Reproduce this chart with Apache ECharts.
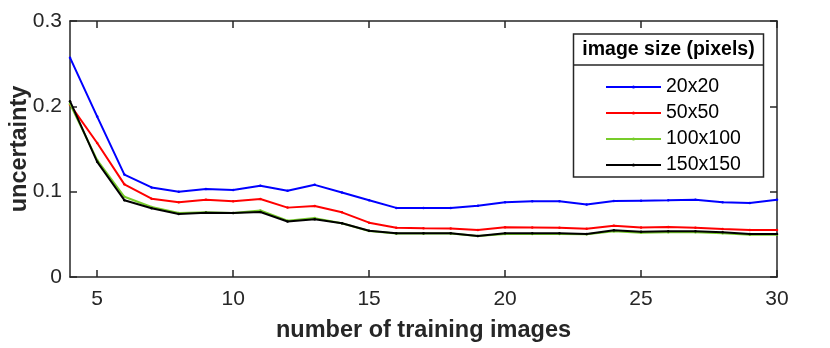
<!DOCTYPE html>
<html><head><meta charset="utf-8">
<script src="https://cdn.jsdelivr.net/npm/echarts@6/dist/echarts.min.js"></script>
<style>html,body{margin:0;padding:0;background:#fff}#c{width:830px;height:348px}</style>
</head><body><div id="c"></div>
<script>
const xs = [4,5,6,7,8,9,10,11,12,13,14,15,16,17,18,19,20,21,22,23,24,25,26,27,28,29,30];
const s20 = [0.257,0.188,0.120,0.105,0.100,0.103,0.102,0.107,0.101,0.108,0.099,0.090,0.081,0.081,0.081,0.0836,0.0875,0.0887,0.0887,0.085,0.089,0.0895,0.090,0.0906,0.0875,0.0867,0.0906];
const s50 = [0.202,0.157,0.1086,0.0918,0.0875,0.0906,0.0887,0.0914,0.0813,0.0832,0.0758,0.0637,0.0578,0.057,0.0567,0.0551,0.0582,0.058,0.0578,0.0566,0.0601,0.058,0.0586,0.0578,0.0563,0.055,0.055];
const s100 = [0.203,0.137,0.094,0.082,0.075,0.076,0.075,0.078,0.066,0.069,0.063,0.054,0.051,0.051,0.051,0.048,0.0505,0.0505,0.0505,0.050,0.0537,0.052,0.0525,0.0525,0.0512,0.0495,0.0495];
const s150 = [0.206,0.135,0.090,0.0805,0.0738,0.0754,0.075,0.0762,0.065,0.0676,0.063,0.0543,0.0512,0.0512,0.0512,0.048,0.0512,0.0512,0.0512,0.0504,0.0547,0.053,0.0535,0.0535,0.0523,0.0504,0.0504];
const names = ['20x20','50x50','100x100','150x150'];
const colors = ['#0000ff','#ff0000','#77cc2a','#000000'];
const xTicks = [5,10,15,20,25,30];
const legendTitle = 'image size (pixels)';
const xName = 'number of training images';
const yName = 'uncertainty';

const F = '"Liberation Sans", Arial, Helvetica, sans-serif';
const AX = '#262626';
const chart = echarts.init(document.getElementById('c'), null, {renderer:'canvas'});
const seriesData = [s20,s50,s100,s150];
const series = seriesData.map((d,i)=>({
  name: names[i], type:'line', data: xs.map((x,j)=>[x,d[j]]),
  symbol:'circle', symbolSize:2.5, showSymbol:true,
  lineStyle:{color:colors[i], width:2}, itemStyle:{color:colors[i]},
  z: 2+i, animation:false
}));
const yLabelFmt = v => v===0 ? '0' : String(+v.toFixed(1));
chart.setOption({
  animation:false,
  backgroundColor:'#fff',
  grid:{left:70,right:53,top:21,bottom:71,containLabel:false,outerBoundsMode:'none'},
  xAxis:[{
    type:'value', min:4, max:30, position:'bottom',
    name:xName, nameLocation:'middle', nameGap:42,
    nameTextStyle:{fontFamily:F,fontSize:23.5,fontWeight:'bold',color:AX},
    axisLine:{show:true,onZero:false,lineStyle:{color:AX,width:1.5}},
    axisTick:{show:true,inside:true,length:7,customValues:xTicks,lineStyle:{color:AX,width:1.5}},
    axisLabel:{customValues:xTicks,fontFamily:F,fontSize:21,color:AX,margin:12},
    splitLine:{show:false}
  },{
    type:'value', min:4, max:30, position:'top',
    axisLine:{show:true,onZero:false,lineStyle:{color:AX,width:1.5}},
    axisTick:{show:true,inside:true,length:7,customValues:xTicks,lineStyle:{color:AX,width:1.5}},
    axisLabel:{show:false}, splitLine:{show:false}
  }],
  yAxis:[{
    type:'value', min:0, max:0.3, interval:0.1, position:'left',
    name:yName, nameLocation:'middle', nameGap:38, nameRotate:90, nameMoveOverlap:false,
    nameTextStyle:{fontFamily:F,fontSize:23.5,fontWeight:'bold',color:AX},
    axisLine:{show:true,onZero:false,lineStyle:{color:AX,width:1.5}},
    axisTick:{show:true,inside:true,length:7,lineStyle:{color:AX,width:1.5}},
    axisLabel:{fontFamily:F,fontSize:21,color:AX,margin:8,formatter:yLabelFmt},
    splitLine:{show:false}
  },{
    type:'value', min:0, max:0.3, interval:0.1, position:'right',
    axisLine:{show:true,onZero:false,lineStyle:{color:AX,width:1.5}},
    axisTick:{show:true,inside:true,length:7,lineStyle:{color:AX,width:1.5}},
    axisLabel:{show:false}, splitLine:{show:false}
  }],
  legend:{
    show:true, orient:'vertical', left:600, top:72, z:20,
    itemWidth:55, itemHeight:4, itemGap:6,
    textStyle:{fontFamily:F,fontSize:19.5,color:'#000',lineHeight:20},
    data:names, selectedMode:false
  },
  graphic:[
    {type:'rect', shape:{x:573.5,y:34,width:190,height:143}, style:{fill:'#fff',stroke:AX,lineWidth:1.5}, z:10, silent:true},
    {type:'line', shape:{x1:573.5,y1:65,x2:763.5,y2:65}, style:{stroke:AX,lineWidth:1.5}, z:11, silent:true},
    {type:'text', x:668.5, y:50, style:{text:legendTitle, fontFamily:F, fontSize:19.5, fontWeight:'bold', fill:'#000', align:'center', verticalAlign:'middle'}, z:11, silent:true}
  ],
  series: series
});
</script></body></html>
